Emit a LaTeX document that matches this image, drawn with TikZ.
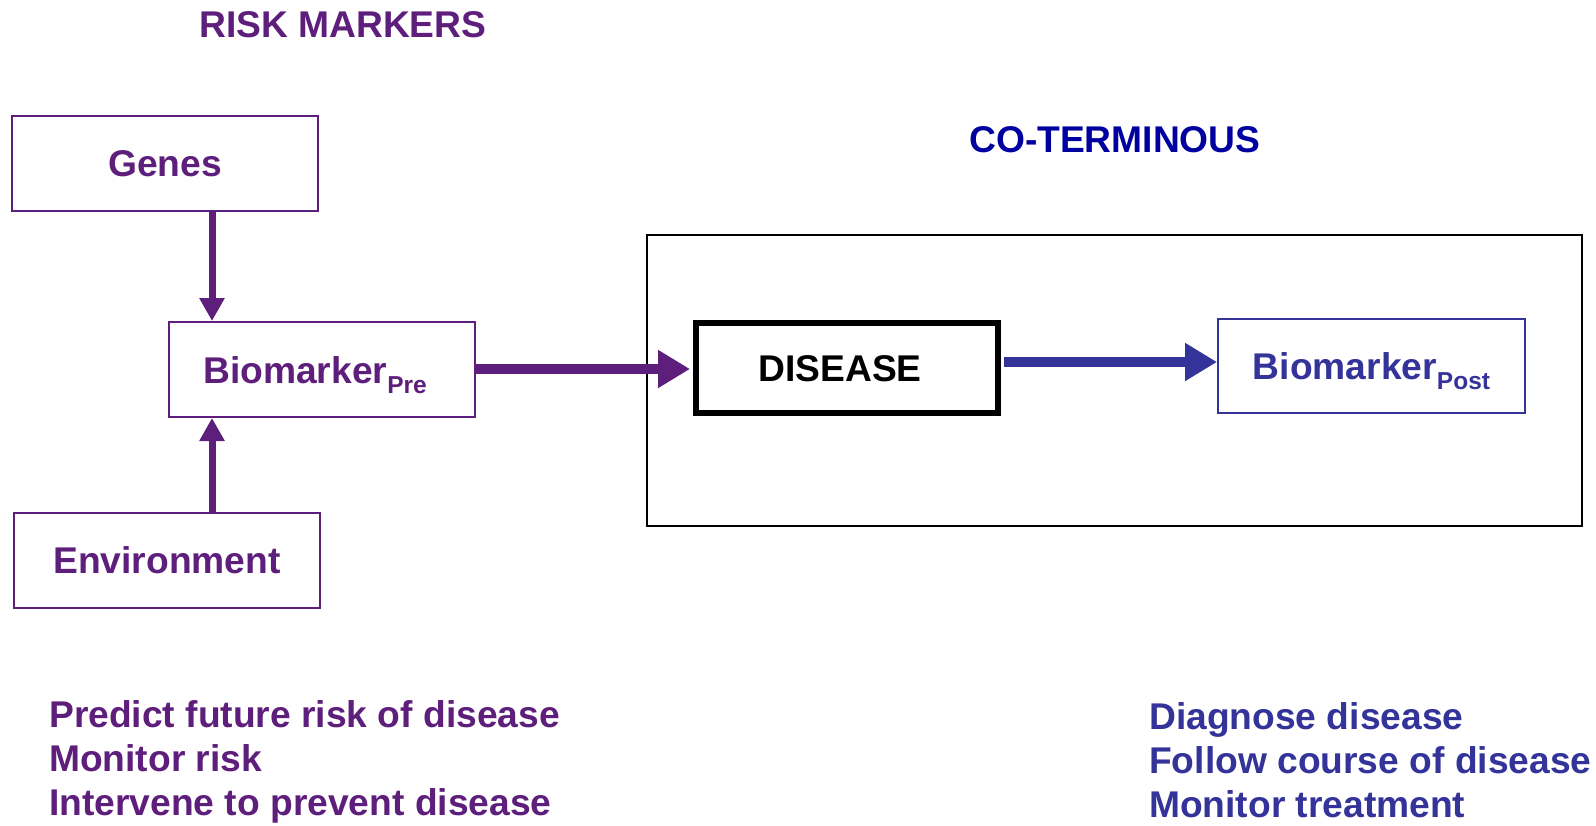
\documentclass[tikz,border=0pt]{standalone}
\usepackage{fontspec}
\setmainfont{Liberation Sans}
\usetikzlibrary{arrows.meta}
\definecolor{rpurple}{RGB}{94,30,124}
\definecolor{rblue}{RGB}{51,51,153}
\definecolor{cblue}{RGB}{0,0,160}
\newcommand{\bigtxt}{\fontsize{37.2}{44}\selectfont\bfseries}
\newcommand{\subtxt}[1]{\raisebox{-10pt}{\fontsize{24.5}{24}\selectfont\bfseries #1}}
\begin{document}
\begin{tikzpicture}[x=1pt,y=-1pt,
  lbl/.style={font=\bigtxt, inner sep=0pt, text height=27pt, text depth=0pt},
  pbox/.style={lbl, draw=rpurple, line width=2pt, text=rpurple, minimum width=306pt, minimum height=95pt},
  bbox/.style={lbl, draw=rblue, line width=2pt, text=rblue, minimum width=307pt, minimum height=94pt},
  dbox/.style={lbl, draw=black, line width=6pt, text=black, minimum width=302pt, minimum height=90pt},
  frame/.style={draw=black, line width=2pt, inner sep=0pt},
  title/.style={anchor=base west, font=\bigtxt, inner sep=0pt},
  note/.style={anchor=base west, font=\bigtxt, inner sep=0pt},
  varrow/.style={draw=rpurple, line width=7pt, -{Triangle[width=24pt,length=23pt]}},
  harrow/.style={line width=10pt, -{Triangle[width=36pt,length=32pt]}}
]
\useasboundingbox (0,0) rectangle (1596,825);
\fill[white] (0,0) rectangle (1596,825);

\node[title, text=rpurple] (risk) at (199,37) {RISK MARKERS};
\node[title, text=cblue] (coterm) at (969,152) {CO-TERMINOUS};

\node[frame, minimum width=935pt, minimum height=291pt] (frame) at (1114.5,380.5) {};

\node[pbox] (genes) at (165,163) {Genes};
\node[pbox] (pre) at (322,369.5) {Biomarker\subtxt{Pre}\kern14pt};
\node[pbox] (env) at (167,560) {Environment};
\node[dbox] (disease) at (847,368) {DISEASE\kern14pt};
\node[bbox] (post) at (1371.5,366) {Biomarker\subtxt{Post}};

\coordinate (ax) at (212,0);
\coordinate (ry) at (0,369);
\coordinate (by) at (0,362);
\draw[varrow] (genes.south -| ax) -- (pre.north -| ax);
\draw[varrow] (env.north -| ax) -- (pre.south -| ax);
\draw[harrow, draw=rpurple] (pre.east |- ry) -- ([xshift=-3pt]disease.west |- ry);
\draw[harrow, draw=rblue] ([xshift=3pt]disease.east |- by) -- (post.west |- by);

\node[note, text=rpurple] (l1) at (49,727) {Predict future risk of disease};
\node[note, text=rpurple] (l2) at (49,771) {Monitor risk};
\node[note, text=rpurple] (l3) at (49,815) {Intervene to prevent disease};
\node[note, text=rblue] (r1) at (1149,729) {Diagnose disease};
\node[note, text=rblue] (r2) at (1149,773) {Follow course of disease};
\node[note, text=rblue] (r3) at (1149,817) {Monitor treatment};
\end{tikzpicture}
\end{document}
